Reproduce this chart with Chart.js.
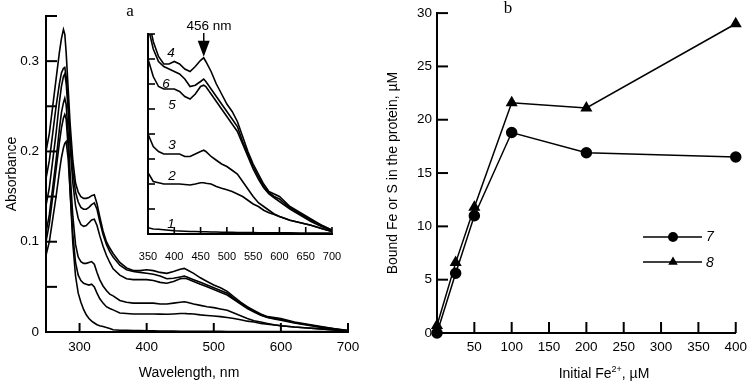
<!DOCTYPE html>
<html>
<head>
<meta charset="utf-8">
<script src="https://cdn.jsdelivr.net/npm/chart.js@4.4.1/dist/chart.umd.min.js"></script>
<style>
    html, body { margin: 0; padding: 0; background: #fff; }
    #wrap { position: relative; width: 753px; height: 381px; }
    #wrap canvas { position: absolute; left: 0; top: 0; }
</style>
</head>
<body>
<div id="wrap">
    <canvas id="absChart" width="753" height="381"></canvas>
    <canvas id="insetChart" width="753" height="381"></canvas>
    <canvas id="bindChart" width="753" height="381"></canvas>
</div>
<script>
// --- Panel a: absorption spectra (nm / absorbance) ---
const wavelengths = [250, 255, 260, 265, 270, 273, 276, 278, 280, 283, 286, 290, 294, 298, 302, 306, 310, 314, 318, 322,
    326, 330, 335, 340, 345, 350, 360, 370, 380, 390, 400, 410, 420, 430, 440, 450, 456, 460, 470, 480,
    490, 500, 510, 520, 530, 540, 550, 560, 570, 580, 590, 600, 620, 640, 660, 680, 700];

const spec1 = [0.10, 0.12, 0.15, 0.18, 0.21, 0.226, 0.237, 0.241, 0.236, 0.205, 0.155, 0.098, 0.062, 0.043, 0.033, 0.025, 0.019, 0.015, 0.012, 0.010,
    0.008, 0.007, 0.006, 0.005, 0.004, 0.0025, 0.002, 0.0019, 0.0017, 0.0015, 0.0013, 0.0012, 0.0011, 0.001, 0.001, 0.0009, 0.0009, 0.0009, 0.0008, 0.0008,
    0.0007, 0.0007, 0.0007, 0.0006, 0.0006, 0.0006, 0.0006, 0.0005, 0.0005, 0.0005, 0.0005, 0.0005, 0.0005, 0.0004, 0.0004, 0.0004, 0.0004];
const spec2 = [0.085, 0.10, 0.125, 0.15, 0.178, 0.193, 0.204, 0.209, 0.211, 0.192, 0.155, 0.108, 0.077, 0.063, 0.057, 0.054, 0.053, 0.052, 0.053, 0.050,
    0.043, 0.037, 0.032, 0.028, 0.026, 0.0245, 0.021, 0.0205, 0.020, 0.020, 0.020, 0.020, 0.0198, 0.0196, 0.020, 0.0205, 0.0205, 0.0203, 0.020, 0.019,
    0.0183, 0.0177, 0.017, 0.016, 0.015, 0.0135, 0.012, 0.011, 0.0095, 0.0085, 0.0078, 0.007, 0.0055, 0.0045, 0.0035, 0.0022, 0.001];
const spec3 = [0.11, 0.13, 0.16, 0.19, 0.225, 0.243, 0.254, 0.259, 0.252, 0.22, 0.175, 0.128, 0.097, 0.083, 0.078, 0.076, 0.076, 0.077, 0.078, 0.075,
    0.066, 0.058, 0.051, 0.046, 0.042, 0.040, 0.035, 0.033, 0.032, 0.032, 0.032, 0.032, 0.031, 0.031, 0.032, 0.033, 0.0335, 0.033, 0.031, 0.0295,
    0.028, 0.027, 0.0255, 0.024, 0.021, 0.018, 0.015, 0.0125, 0.011, 0.0095, 0.008, 0.007, 0.0055, 0.0045, 0.0035, 0.0022, 0.001];
const spec4 = [0.20, 0.22, 0.25, 0.28, 0.31, 0.325, 0.335, 0.33, 0.31, 0.27, 0.23, 0.19, 0.165, 0.155, 0.15, 0.148, 0.148, 0.149, 0.151, 0.152,
    0.142, 0.128, 0.112, 0.100, 0.093, 0.087, 0.077, 0.071, 0.068, 0.068, 0.069, 0.068, 0.066, 0.065, 0.067, 0.0695, 0.0705, 0.069, 0.065, 0.060,
    0.056, 0.052, 0.049, 0.045, 0.039, 0.033, 0.028, 0.024, 0.020, 0.017, 0.016, 0.015, 0.011, 0.0085, 0.006, 0.0035, 0.0015];
const spec5 = [0.14, 0.16, 0.19, 0.22, 0.255, 0.272, 0.283, 0.286, 0.276, 0.245, 0.205, 0.165, 0.140, 0.126, 0.119, 0.117, 0.118, 0.121, 0.124, 0.125,
    0.118, 0.107, 0.095, 0.085, 0.077, 0.070, 0.063, 0.059, 0.058, 0.058, 0.058, 0.057, 0.055, 0.054, 0.056, 0.059, 0.0595, 0.059, 0.056, 0.053,
    0.050, 0.047, 0.044, 0.041, 0.036, 0.031, 0.026, 0.022, 0.0185, 0.016, 0.0145, 0.013, 0.010, 0.0075, 0.005, 0.003, 0.0013];
const spec6 = [0.17, 0.19, 0.22, 0.25, 0.275, 0.287, 0.292, 0.293, 0.283, 0.255, 0.215, 0.178, 0.155, 0.144, 0.138, 0.136, 0.136, 0.138, 0.141, 0.143,
    0.136, 0.123, 0.108, 0.097, 0.089, 0.083, 0.074, 0.069, 0.067, 0.066, 0.065, 0.064, 0.062, 0.059, 0.0595, 0.061, 0.062, 0.061, 0.058, 0.055,
    0.052, 0.049, 0.046, 0.043, 0.037, 0.032, 0.027, 0.023, 0.019, 0.0165, 0.015, 0.014, 0.0105, 0.008, 0.0055, 0.0035, 0.0015];

const curveLabels = ['1', '2', '3', '4', '5', '6'];
const spectra = [spec1, spec2, spec3, spec4, spec5, spec6];
const wavelengthTicks = [300, 400, 500, 600, 700];
const arrowWavelength = 456;

// --- Panel b: bound Fe / S vs initial Fe2+ ---
const feInitial = [0, 25, 50, 100, 200, 400];
const boundFe7 = [0, 5.6, 11.0, 18.8, 16.9, 16.5];
const boundS8 = [0.7, 6.6, 11.8, 21.6, 21.1, 29.0];
const seriesLabels = ['7', '8'];

// --- Helpers ---
Chart.defaults.font.family = '"Liberation Sans", Arial, sans-serif';
Chart.defaults.font.size = 13;
Chart.defaults.color = '#000';

const SANS = '"Liberation Sans", Arial, sans-serif';
const SERIF = '"Liberation Serif", "Times New Roman", serif';

function toPoints(xs, ys, minX) {
    return xs.map((x, i) => ({ x: x, y: ys[i] })).filter(p => minX === undefined || p.x >= minX);
}

// tick marks drawn inside the plot area, like the original figure
const innerTicks = {
    id: 'innerTicks',
    afterDraw(chart, args, opts) {
        const ctx = chart.ctx;
        const area = chart.chartArea;
        ctx.save();
        ctx.strokeStyle = '#000';
        ctx.lineWidth = opts.width || 2;
        ['x', 'y'].forEach(key => {
            const scale = chart.scales[key];
            const len = opts[key];
            if (!scale || !len) return;
            scale.ticks.forEach(t => {
                const p = scale.getPixelForValue(t.value);
                ctx.beginPath();
                if (scale.isHorizontal()) {
                    ctx.moveTo(p, area.bottom);
                    ctx.lineTo(p, area.bottom - len);
                } else {
                    ctx.moveTo(area.left, p);
                    ctx.lineTo(area.left + len, p);
                }
                ctx.stroke();
            });
        });
        ctx.restore();
    }
};

// free text; an item may be split in parts (for the superscript)
function textLayer(id, items, extra) {
    return {
        id: id,
        afterDraw(chart) {
            const ctx = chart.ctx;
            ctx.save();
            ctx.fillStyle = '#000';
            ctx.textBaseline = 'alphabetic';
            items.forEach(it => {
                const parts = it.parts || [{ text: it.text, font: it.font, dy: 0 }];
                let total = 0;
                parts.forEach(p => { ctx.font = p.font; total += ctx.measureText(p.text).width; });
                let x = it.x - total / 2;
                ctx.textAlign = 'left';
                parts.forEach(p => {
                    ctx.font = p.font;
                    ctx.fillText(p.text, x, it.y + (p.dy || 0));
                    x += ctx.measureText(p.text).width;
                });
            });
            if (extra) extra(chart, ctx);
            ctx.restore();
        }
    };
}

function scaleBase(extra) {
    return Object.assign({
        type: 'linear',
        grid: { display: false, drawTicks: false },
        border: { display: true, color: '#000', width: 2 },
        ticks: { color: '#000', autoSkip: false, maxRotation: 0, font: { size: 13.5 } }
    }, extra);
}

// --- Main spectra chart ---
new Chart(document.getElementById('absChart'), {
    type: 'scatter',
    data: {
        datasets: spectra.map((s, i) => ({
            label: curveLabels[i],
            data: toPoints(wavelengths, s),
            showLine: true,
            borderColor: '#000',
            borderWidth: 1.6,
            pointRadius: 0,
            tension: 0
        }))
    },
    options: {
        responsive: false,
        animation: false,
        devicePixelRatio: 1,
        layout: { padding: { left: 0, right: 405, top: 16, bottom: 0 } },
        plugins: {
            legend: { display: false },
            tooltip: { enabled: false },
            innerTicks: { x: 9, y: 11, width: 2 }
        },
        scales: {
            x: scaleBase({
                min: 250, max: 700,
                afterFit: s => { s.height = 49; },
                afterBuildTicks: s => { s.ticks = wavelengthTicks.map(v => ({ value: v })); },
                ticks: { color: '#000', autoSkip: false, maxRotation: 0, padding: 7, font: { size: 13.5 } }
            }),
            y: scaleBase({
                min: 0, max: 0.35,
                afterFit: s => { s.width = 46; },
                ticks: {
                    color: '#000', autoSkip: false, stepSize: 0.05, padding: 7, font: { size: 13.5 },
                    callback: v => (Math.abs(v * 10 - Math.round(v * 10)) < 1e-6 && v < 0.34) ? (v === 0 ? '0' : v.toFixed(1)) : ''
                },
                title: { display: true, text: 'Absorbance', font: { size: 14 }, padding: { top: 4, bottom: 0 } }
            })
        }
    },
    plugins: [innerTicks, textLayer('absText', [
        { text: 'a', x: 130, y: 16, font: '17px ' + SERIF },
        { text: 'Wavelength, nm', x: 189, y: 377, font: '14px ' + SANS }
    ])]
});

// --- Inset: visible region ---
new Chart(document.getElementById('insetChart'), {
    type: 'scatter',
    data: {
        datasets: spectra.map((s, i) => ({
            label: curveLabels[i],
            data: toPoints(wavelengths, s, 350),
            showLine: true,
            borderColor: '#000',
            borderWidth: 1.6,
            pointRadius: 0,
            tension: 0
        }))
    },
    options: {
        responsive: false,
        animation: false,
        devicePixelRatio: 1,
        layout: { padding: { left: 120, right: 421, top: 34, bottom: 111 } },
        plugins: {
            legend: { display: false },
            tooltip: { enabled: false },
            innerTicks: { x: 7, y: 7, width: 1.6 }
        },
        scales: {
            x: scaleBase({
                min: 350, max: 700,
                afterFit: s => { s.height = 36; },
                ticks: { color: '#000', autoSkip: false, maxRotation: 0, stepSize: 50, padding: 16, font: { size: 11 } }
            }),
            y: scaleBase({
                min: 0, max: 0.08,
                afterFit: s => { s.width = 28; },
                ticks: { display: false, stepSize: 0.01 }
            })
        }
    },
    plugins: [innerTicks, textLayer('insetText', [
        { text: '456 nm', x: 209, y: 30, font: '13.5px ' + SANS },
        { text: curveLabels[3], x: 171, y: 57, font: 'italic 13.5px ' + SANS },
        { text: curveLabels[5], x: 166, y: 88, font: 'italic 13.5px ' + SANS },
        { text: curveLabels[4], x: 172, y: 109, font: 'italic 13.5px ' + SANS },
        { text: curveLabels[2], x: 172, y: 149, font: 'italic 13.5px ' + SANS },
        { text: curveLabels[1], x: 172, y: 180, font: 'italic 13.5px ' + SANS },
        { text: curveLabels[0], x: 171, y: 228, font: 'italic 13.5px ' + SANS }
    ], (chart, ctx) => {
        const ax = chart.scales.x.getPixelForValue(arrowWavelength);
        const tipY = chart.scales.y.getPixelForValue(spec4[wavelengths.indexOf(arrowWavelength)]) - 1;
        ctx.strokeStyle = '#000';
        ctx.lineWidth = 1.5;
        ctx.beginPath();
        ctx.moveTo(ax, 33);
        ctx.lineTo(ax, tipY - 12);
        ctx.stroke();
        ctx.beginPath();
        ctx.moveTo(ax - 6, tipY - 16);
        ctx.lineTo(ax + 6, tipY - 16);
        ctx.lineTo(ax, tipY);
        ctx.closePath();
        ctx.fill();
    })]
});

// --- Panel b chart ---
new Chart(document.getElementById('bindChart'), {
    type: 'scatter',
    data: {
        datasets: [
            {
                label: seriesLabels[0],
                data: toPoints(feInitial, boundFe7),
                showLine: true,
                borderColor: '#000',
                borderWidth: 1.5,
                pointStyle: 'circle',
                pointRadius: 5,
                pointBackgroundColor: '#000',
                pointBorderColor: '#000',
                clip: false
            },
            {
                label: seriesLabels[1],
                data: toPoints(feInitial, boundS8),
                showLine: true,
                borderColor: '#000',
                borderWidth: 1.5,
                pointStyle: 'triangle',
                pointRadius: 5.5,
                pointBackgroundColor: '#000',
                pointBorderColor: '#000',
                clip: false
            }
        ]
    },
    options: {
        responsive: false,
        animation: false,
        devicePixelRatio: 1,
        layout: { padding: { left: 370, right: 14, top: 12, bottom: 0 } },
        plugins: {
            legend: { display: false },
            tooltip: { enabled: false },
            innerTicks: { x: 11, y: 11, width: 2 }
        },
        scales: {
            x: scaleBase({
                min: 0, max: 400,
                afterFit: s => { s.height = 48; },
                ticks: {
                    color: '#000', autoSkip: false, maxRotation: 0, stepSize: 50, padding: 6, font: { size: 13.5 },
                    callback: v => v === 0 ? '' : String(v)
                }
            }),
            y: scaleBase({
                min: 0, max: 30,
                afterFit: s => { s.width = 67; },
                ticks: { color: '#000', autoSkip: false, stepSize: 5, padding: 5, font: { size: 13.5 } },
                title: { display: true, text: 'Bound Fe or S in the protein, µM', font: { size: 14 }, padding: { top: 15, bottom: 0 } }
            })
        }
    },
    plugins: [innerTicks, textLayer('bindText', [
        { text: 'b', x: 508, y: 13, font: '17px ' + SERIF },
        { x: 604, y: 378, parts: [
            { text: 'Initial Fe', font: '14px ' + SANS, dy: 0 },
            { text: '2+', font: '9px ' + SANS, dy: -6 },
            { text: ', µM', font: '14px ' + SANS, dy: 0 }
        ] },
        { text: seriesLabels[0], x: 710, y: 241, font: 'italic 14px ' + SANS },
        { text: seriesLabels[1], x: 710, y: 267, font: 'italic 14px ' + SANS }
    ], (chart, ctx) => {
        // legend rows: line with the series marker in the middle
        const rows = [{ y: 237, style: 'circle' }, { y: 262, style: 'triangle' }];
        ctx.strokeStyle = '#000';
        ctx.lineWidth = 1.5;
        rows.forEach(r => {
            ctx.beginPath();
            ctx.moveTo(643, r.y);
            ctx.lineTo(702, r.y);
            ctx.stroke();
            const cx = 673;
            ctx.beginPath();
            if (r.style === 'circle') {
                ctx.arc(cx, r.y, 5, 0, Math.PI * 2);
            } else {
                const rad = 5.5;
                ctx.moveTo(cx, r.y - rad);
                ctx.lineTo(cx + rad * 0.866, r.y + rad / 2);
                ctx.lineTo(cx - rad * 0.866, r.y + rad / 2);
                ctx.closePath();
            }
            ctx.fill();
        });
    })]
});
</script>
</body>
</html>
